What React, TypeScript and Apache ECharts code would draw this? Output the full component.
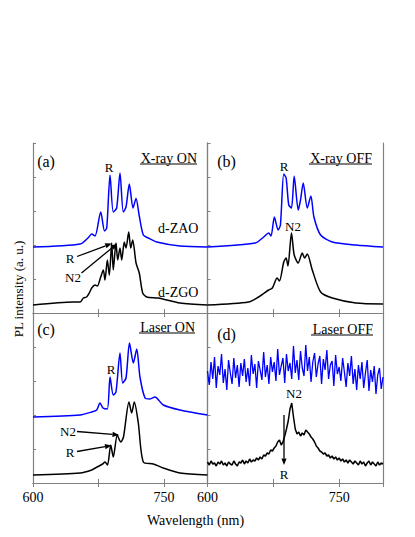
import React, { useEffect, useRef } from "react";
import * as echarts from "echarts";

// ---- Data (wavelength in nm, intensity in arbitrary units) ----
const aBlueWl = [600, 654, 663, 667.3, 671.1, 677.6, 682, 684.5, 688.3, 692, 695.9, 699.7, 703.5, 706.6, 710.4, 714.6, 718.1, 721.8, 726.4, 732.1, 741.8, 768.5, 800];
const aBlueH = [66, 69, 75, 79, 77, 101, 82, 85, 138, 101, 105, 140, 101, 106, 129, 105, 114.5, 97, 78, 75, 71, 67, 66];
const aBlackWl = [600, 646.2, 653.9, 657.7, 661.5, 664.5, 667.3, 671.1, 673.7, 677.6, 680.6, 682.5, 685.2, 687.5, 690.2, 692, 695.1, 697.1, 699.7, 701.7, 704.6, 706.6, 709.7, 712, 714.3, 718.1, 721.8, 725.7, 730.3, 743.6, 768.5, 800];
const aBlackH = [8, 11, 11, 15, 16, 20, 25, 28, 27, 36, 43, 33, 53, 38, 70, 43, 70, 53, 65, 53, 71, 65, 81, 65, 73, 50, 40, 20, 16, 15, 10, 8];

const bBlueWl = [600, 654.4, 664, 669.7, 672.4, 676.2, 680.5, 683.1, 686.9, 689.6, 692.6, 695.7, 698.8, 703.4, 706, 709.1, 713.7, 717.8, 721.3, 728.9, 742.3, 769.1, 800];
const bBlueH = [66, 70, 76, 80, 77, 96, 83, 88, 139, 135, 108, 105, 137, 103, 113, 130, 105, 117, 96, 78, 71, 68, 66];
const bBlackWl = [600, 646.8, 658.2, 669.7, 673.9, 679.3, 682, 686.9, 689.6, 691.7, 695.7, 698.8, 703.4, 708, 710.6, 713.7, 719.4, 728.9, 742.3, 769.1, 800];
const bBlackH = [8, 11, 16, 23, 25, 35, 32, 51, 55, 47, 80, 58, 50, 60, 55, 59, 43, 21, 15, 10, 9];

const cBlueWl = [600, 653.9, 667.3, 673, 676.8, 680.2, 685.2, 688.3, 692, 695.1, 699.7, 702.8, 706.6, 710.6, 715, 718.9, 722.6, 728.4, 734.1, 739.8, 749.3, 768.5, 800];
const cBlueH = [66, 68, 71, 73, 80, 75, 74, 106, 88, 91, 130, 100, 105, 140, 120, 134, 106, 85, 84, 86, 78, 73, 68];
const cBlackWl = [600, 653.9, 667.3, 673.4, 679.9, 682.5, 685.4, 689.1, 692, 696.6, 700.5, 703.7, 710, 713.1, 716.1, 720.7, 726.4, 737.9, 749.3, 768.5, 800];
const cBlackH = [8, 10, 13, 16, 19, 21, 18, 38, 26, 48, 41, 46, 81, 70, 81, 60, 21, 19, 15, 10, 8];

const dWl = [
  600, 602, 604, 606, 608, 610, 612, 614, 616, 618,
  620, 622, 624, 626, 628, 630, 632, 634, 636, 638,
  640, 642, 644, 646, 648, 650, 652, 654, 656, 658,
  660, 662, 664, 666, 668, 670, 672, 674, 676, 678,
  680, 682, 684, 686, 688, 690, 692, 694, 696, 698,
  700, 702, 704, 706, 708, 710, 712, 714, 716, 718,
  720, 722, 724, 726, 728, 730, 732, 734, 736, 738,
  740, 742, 744, 746, 748, 750, 752, 754, 756, 758,
  760, 762, 764, 766, 768, 770, 772, 774, 776, 778,
  780, 782, 784, 786, 788, 790, 792, 794, 796, 798,
  800,
];
const dBlueH = [
  112, 98, 121, 104, 126, 95, 117, 108, 129, 100, 114, 93, 123, 110, 99, 125, 105, 118, 96, 120, 107,
  124, 101, 115, 97, 128, 109, 119, 95, 122, 113, 103, 131, 106, 118, 99, 126, 111, 121, 102, 134, 108, 117, 125, 100, 129, 112, 120, 104, 137, 110,
  123, 103, 132, 115, 107, 138, 112, 126, 101, 121, 130, 106, 119, 127, 99, 124, 113, 133, 104, 118, 122, 97, 128, 109, 116,
  102, 125, 111, 96, 120, 107, 127, 99, 114, 93, 118, 104, 121, 95, 110, 123, 92, 113, 101, 117, 89, 108, 115, 94, 106,
];
const dBlackH = [
  21, 18, 22, 19, 20, 17, 21, 19, 22, 18,
  20, 17, 21, 19, 18, 22, 19, 17, 21, 20,
  23, 19, 22, 20, 24, 21, 23, 22, 25, 23,
  26, 24, 28, 27, 30, 29, 33, 32, 35, 37,
  41, 43, 38, 41, 47, 54, 62, 74, 80, 66,
  54, 49, 51, 47, 50, 48, 53, 51, 49, 46,
  44, 41, 37, 35, 32, 31, 29, 30, 27, 28,
  25, 27, 24, 26, 23, 25, 22, 24, 21, 23,
  20, 23, 21, 19, 22, 20, 18, 22, 19, 21,
  17, 20, 22, 18, 21, 19, 17, 21, 18, 20,
  19,
];

const xTickLabels = [600, 750];
const panelTitles = ["X-ray ON", "X-ray OFF", "Laser ON", "Laser OFF"];
const panelTags = ["(a)", "(b)", "(c)", "(d)"];

const FONT = "Liberation Serif";
const FRAME = "#808080";
const BLUE = "#0000ff";

const zip = (xs: number[], ys: number[]) => xs.map((x, i) => [x, ys[i]]);

function arrow(x1: number, y1: number, x2: number, y2: number) {
  const ang = Math.atan2(y2 - y1, x2 - x1);
  const L = 6.5, W = 2.6;
  const bx = x2 - L * Math.cos(ang), by = y2 - L * Math.sin(ang);
  const px = -Math.sin(ang) * W, py = Math.cos(ang) * W;
  return [
    { type: "line", shape: { x1, y1, x2: bx, y2: by }, style: { stroke: "#000", lineWidth: 1.3 }, silent: true },
    { type: "polygon", shape: { points: [[x2, y2], [bx + px, by + py], [bx - px, by - py]] }, style: { fill: "#000" }, silent: true },
  ];
}

function txt(text: string, x: number, y: number, size: number, align = "center") {
  return {
    type: "text", x, y, silent: true,
    style: { text, fontFamily: FONT, fontSize: size, fill: "#000", align, verticalAlign: "middle" },
  };
}

function underline(x1: number, x2: number, y: number) {
  return { type: "line", shape: { x1, y1: y, x2, y2: y }, style: { stroke: "#000", lineWidth: 1 }, silent: true };
}

export default function App() {
  const ref = useRef<HTMLDivElement>(null);
  useEffect(() => {
    if (!ref.current) return;
    const chart = echarts.init(ref.current, null, { renderer: "svg" });

    const grids = [
      { left: 33, top: 143, width: 174.5, height: 170 },
      { left: 207.5, top: 143, width: 175.5, height: 170 },
      { left: 33, top: 313, width: 174.5, height: 170 },
      { left: 207.5, top: 313, width: 175.5, height: 170 },
    ];

    const xAxes: any[] = [];
    const yAxes: any[] = [];
    grids.forEach((_, i) => {
      const bottomRow = i >= 2;
      xAxes.push({
        type: "value", gridIndex: i, min: 600, max: 800, interval: 75, position: "bottom",
        axisLine: { show: true, lineStyle: { color: FRAME, width: 1.2 } },
        axisTick: { show: true, inside: true, length: 4, lineStyle: { color: FRAME } },
        axisLabel: {
          show: bottomRow, margin: 7, fontFamily: FONT, fontSize: 14, color: "#000",
          showMaxLabel: false,
          formatter: (v: number) => (xTickLabels.includes(v) ? String(v) : ""),
        },
        splitLine: { show: false },
      });
      xAxes.push({
        type: "value", gridIndex: i, min: 600, max: 800, interval: 75, position: "top",
        axisLine: { show: true, lineStyle: { color: FRAME, width: 1.2 } },
        axisTick: { show: true, inside: true, length: 4, lineStyle: { color: FRAME } },
        axisLabel: { show: false },
        splitLine: { show: false },
      });
      yAxes.push({
        type: "value", gridIndex: i, min: 0, max: 170, interval: 34, position: "left",
        axisLine: { show: true, lineStyle: { color: FRAME, width: 1.2 } },
        axisTick: { show: true, inside: true, length: 3, lineStyle: { color: FRAME } },
        axisLabel: { show: false },
        splitLine: { show: false },
      });
      yAxes.push({
        type: "value", gridIndex: i, min: 0, max: 170, position: "right",
        axisLine: { show: true, lineStyle: { color: FRAME, width: 1.2 } },
        axisTick: { show: false },
        axisLabel: { show: false },
        splitLine: { show: false },
      });
    });

    const mk = (panel: number, data: number[][], color: string, width = 1.5, smooth = 0.25) => ({
      type: "line", xAxisIndex: panel * 2, yAxisIndex: panel * 2, data,
      showSymbol: false, symbol: "none", silent: true, smooth,
      lineStyle: { color, width }, clip: true,
    });

    const series = [
      mk(0, zip(aBlueWl, aBlueH), BLUE),
      mk(0, zip(aBlackWl, aBlackH), "#000"),
      mk(1, zip(bBlueWl, bBlueH), BLUE),
      mk(1, zip(bBlackWl, bBlackH), "#000"),
      mk(2, zip(cBlueWl, cBlueH), BLUE),
      mk(2, zip(cBlackWl, cBlackH), "#000"),
      mk(3, zip(dWl, dBlueH), BLUE, 1.3, 0),
      mk(3, zip(dWl, dBlackH), "#000", 1.5, 0),
    ];

    const graphic: any[] = [
      txt(panelTags[0], 46, 161, 16),
      txt(panelTags[1], 226.5, 161, 16),
      txt(panelTags[2], 46, 329, 16),
      txt(panelTags[3], 226.5, 334, 16),
      txt(panelTitles[0], 197, 158, 14, "right"), underline(140, 197, 164),
      txt(panelTitles[1], 372, 158, 14, "right"), underline(309, 372, 164),
      txt(panelTitles[2], 195, 327.5, 14, "right"), underline(139, 195, 333),
      txt(panelTitles[3], 373, 329, 14, "right"), underline(311, 373, 335),
      txt("R", 109, 167, 13),
      txt("d-ZAO", 158, 228, 14, "left"),
      txt("d-ZGO", 158, 292, 14, "left"),
      txt("R", 70, 258, 13),
      txt("N2", 73, 277, 13),
      ...arrow(77, 256.5, 111.7, 243.5),
      ...arrow(81.5, 273, 117.3, 243.5),
      txt("R", 284, 166.5, 13),
      txt("N2", 293, 226.5, 13),
      txt("R", 111, 369, 13),
      txt("N2", 68, 431, 13),
      txt("R", 70, 452, 13),
      ...arrow(77, 431.5, 119, 435),
      ...arrow(77, 451.5, 111.5, 445.5),
      txt("N2", 294, 393, 13),
      txt("R", 284, 474, 13),
      ...arrow(284, 415, 284, 465),
      txt("Wavelength (nm)", 195.5, 520, 14),
      {
        type: "text", x: 18, y: 289, rotation: Math.PI / 2, silent: true,
        style: { text: "PL intensity (a. u.)", fontFamily: FONT, fontSize: 13, fill: "#000", align: "center", verticalAlign: "middle" },
      },
    ];

    chart.setOption({
      animation: false,
      backgroundColor: "#fff",
      grid: grids.map((g) => ({ ...g, containLabel: false })),
      xAxis: xAxes,
      yAxis: yAxes,
      series,
      graphic,
    });
    return () => chart.dispose();
  }, []);
  return (
    <div
      ref={ref}
      style={{ position: "fixed", left: 0, top: 0, width: 415, height: 537, background: "#fff" }}
    />
  );
}
